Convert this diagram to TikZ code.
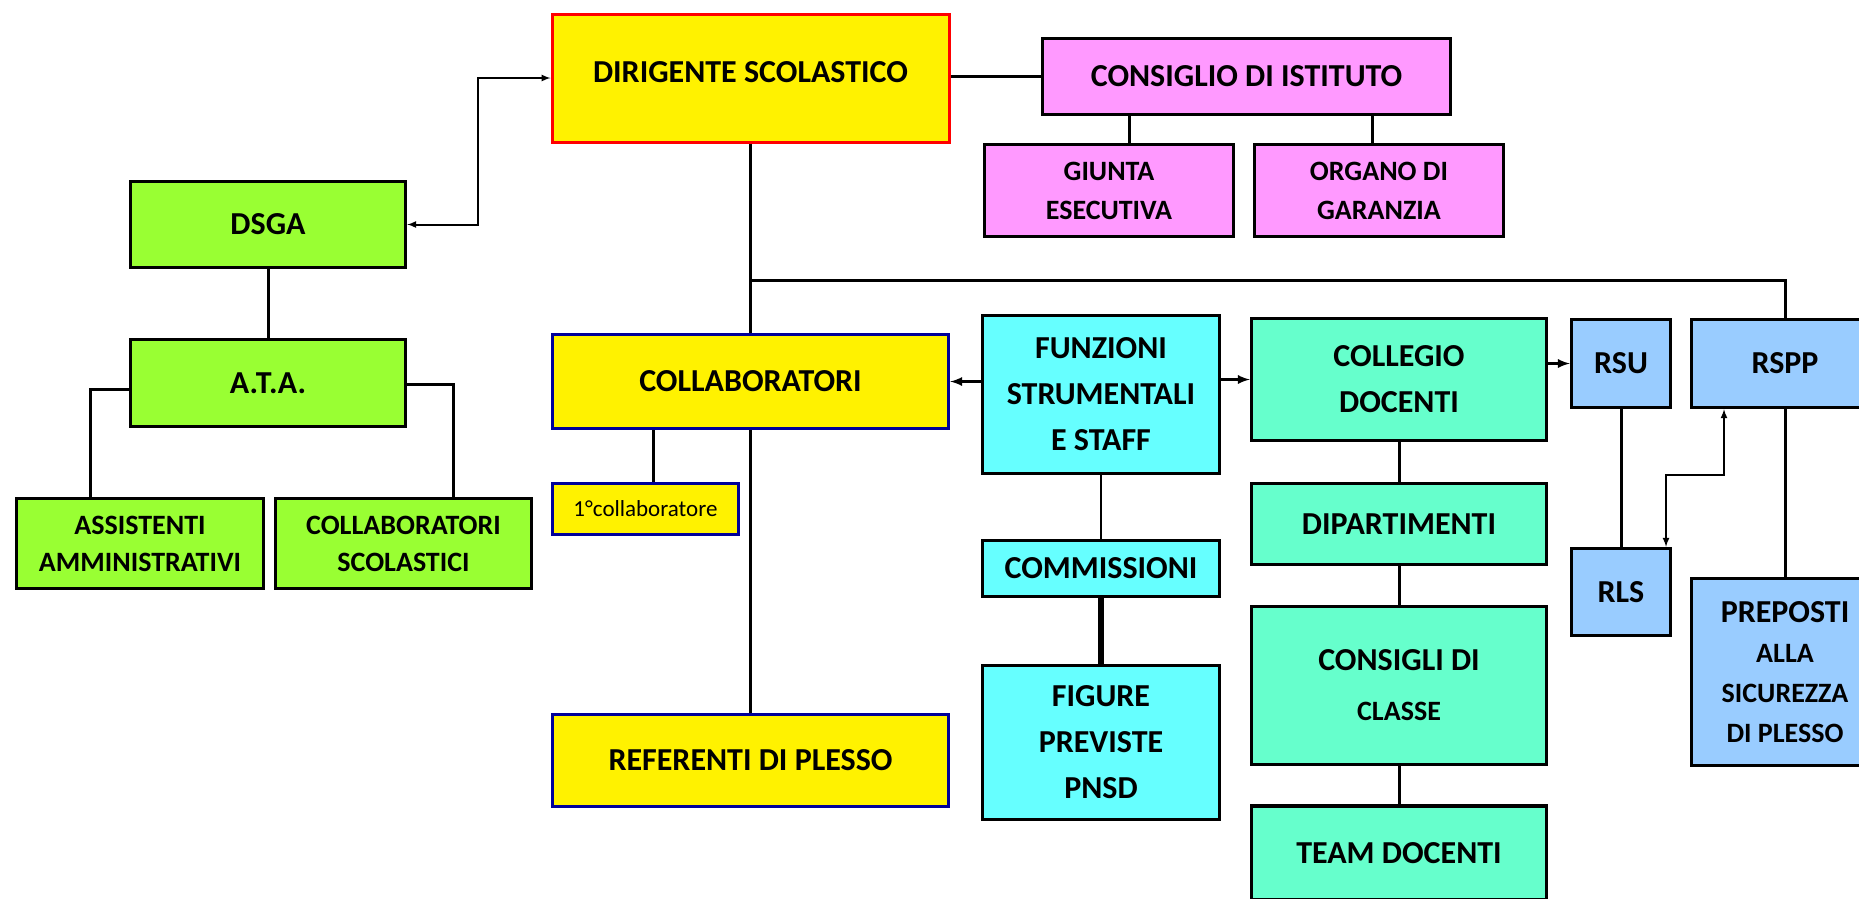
\documentclass[tikz,border=0pt]{standalone}
\usepackage{fontspec}
\setmainfont{Carlito}
\definecolor{atagreen}{HTML}{99FF33}
\definecolor{cipink}{HTML}{FF99FF}
\definecolor{funcyan}{HTML}{66FFFF}
\definecolor{docmint}{HTML}{66FFCC}
\definecolor{safeblue}{HTML}{99CCFF}
\definecolor{collnavy}{HTML}{000099}
\newcommand{\smallline}{\fontsize{28}{40}\selectfont}
\begin{document}
\begin{tikzpicture}[x=1pt,y=-1pt]
        \tikzset{box/.style = {draw,line width=3.5pt,align=center,inner sep=0pt,
                 font=\bfseries\fontsize{32}{46}\selectfont}}
        \tikzset{small/.style = {font=\bfseries\fontsize{28}{39}\selectfont}}
        \tikzset{greenbox/.style = {box,fill=atagreen}}
        \tikzset{pinkbox/.style = {box,fill=cipink}}
        \tikzset{cyanbox/.style = {box,fill=funcyan,line width=3pt}}
        \tikzset{mintbox/.style = {box,fill=docmint}}
        \tikzset{bluebox/.style = {box,fill=safeblue}}
        \tikzset{yellowbox/.style = {box,fill=yellow,draw=collnavy}}
        \tikzset{edge/.style = {line width=3pt}}
        \tikzset{arrowedge/.style = {line width=3pt,->,> = latex}}
        \tikzset{twoway/.style = {line width=2pt,<->,> = latex}}
        \useasboundingbox (0,0) rectangle (1859,898);

        \node[box,fill=yellow,draw=red,line width=3pt,text depth=12pt,minimum width=397pt,minimum height=128pt] (dir) at (750.5,78) {DIRIGENTE SCOLASTICO};
        \node[pinkbox,minimum width=408pt,minimum height=76pt] (ci) at (1246.5,76.5) {CONSIGLIO DI ISTITUTO};
        \node[pinkbox,small,minimum width=249pt,minimum height=92pt] (giunta) at (1109,190.5) {GIUNTA\\ESECUTIVA};
        \node[pinkbox,small,minimum width=249pt,minimum height=92pt] (organo) at (1379,190.5) {ORGANO DI\\GARANZIA};

        \node[greenbox,minimum width=275pt,minimum height=86pt] (dsga) at (268,224.5) {DSGA};
        \node[greenbox,minimum width=275pt,minimum height=87pt] (ata) at (268,383) {A.T.A.};
        \node[greenbox,font=\bfseries\fontsize{28}{37}\selectfont,minimum width=247pt,minimum height=90pt] (assist) at (140,543.5) {ASSISTENTI\\AMMINISTRATIVI};
        \node[greenbox,font=\bfseries\fontsize{28}{37}\selectfont,minimum width=256pt,minimum height=90pt] (colsc) at (403.5,543.5) {COLLABORATORI\\SCOLASTICI};

        \node[yellowbox,minimum width=396pt,minimum height=94pt] (coll) at (750.5,381.5) {COLLABORATORI};
        \node[yellowbox,font=\fontsize{23}{28}\selectfont,minimum width=186pt,minimum height=51pt] (primo) at (645.5,509) {1°collaboratore};
        \node[yellowbox,minimum width=396pt,minimum height=92pt] (ref) at (750.5,760.5) {REFERENTI DI PLESSO};

        \node[cyanbox,minimum width=237pt,minimum height=158pt] (fun) at (1101,394.5) {FUNZIONI\\STRUMENTALI\\E STAFF};
        \node[cyanbox,minimum width=237pt,minimum height=56pt] (comm) at (1101,568.5) {COMMISSIONI};
        \node[cyanbox,minimum width=237pt,minimum height=154pt] (fig) at (1101,742.5) {FIGURE\\PREVISTE\\PNSD};

        \node[mintbox,minimum width=295pt,minimum height=122pt] (colleg) at (1399,379.5) {COLLEGIO\\DOCENTI};
        \node[mintbox,minimum width=295pt,minimum height=81pt] (dip) at (1399,524) {DIPARTIMENTI};
        \node[mintbox,font=\bfseries\fontsize{32}{50}\selectfont,minimum width=295pt,minimum height=158pt] (cdc) at (1399,685.5) {CONSIGLI DI\\\fontsize{28}{50}\selectfont CLASSE};
        \node[mintbox,minimum width=295pt,minimum height=94pt] (team) at (1399,853) {TEAM DOCENTI};

        \node[bluebox,minimum width=99pt,minimum height=88pt] (rsu) at (1621,363.5) {RSU};
        \node[bluebox,minimum width=187pt,minimum height=88pt] (rspp) at (1785,363.5) {RSPP};
        \node[bluebox,minimum width=99pt,minimum height=87pt] (rls) at (1621,592) {RLS};
        \node[bluebox,font=\bfseries\fontsize{32}{40}\selectfont,minimum width=187pt,minimum height=187pt] (prep) at (1785,672) {PREPOSTI\\\smallline ALLA\\\smallline SICUREZZA\\\smallline DI PLESSO};

        \coordinate (branch) at (750.5,280);

        \draw[twoway] (dsga.east) -- ++(71,0) |- (dir.west);
        \draw[edge] (ci.west) -- (ci.west -| dir.east);
        \draw[edge] ([xshift=20pt]giunta.north) -- ([xshift=20pt]giunta.north |- ci.south);
        \draw[edge] ([xshift=-7pt]organo.north) -- ([xshift=-7pt]organo.north |- ci.south);

        \draw[edge] (dir.south) -- (coll.north);
        \draw[edge] (branch) -| (rspp.north);

        \draw[edge] (dsga.south) -- (ata.north);
        \draw[edge] ([yshift=-6pt]ata.west) -| ([xshift=-50pt]assist.north);
        \draw[edge] ([yshift=-1pt]ata.east) -| ([xshift=49.5pt]colsc.north);

        \draw[edge] ([xshift=7.5pt]primo.north) -- ([xshift=7.5pt]primo.north |- coll.south);
        \draw[edge] (coll.south) -- (ref.north);

        \draw[arrowedge] (fun.west |- coll.east) -- (coll.east);
        \draw[arrowedge] (fun.east |- colleg.west) -- (colleg.west);
        \draw[line width=2pt] (fun.south) -- (comm.north);
        \draw[line width=6pt] (comm.south) -- (fig.north);

        \draw[edge] (colleg.south) -- (dip.north);
        \draw[edge] (dip.south) -- (cdc.north);
        \draw[edge] (cdc.south) -- (team.north);

        \draw[arrowedge] (colleg.east |- rsu.west) -- (rsu.west);
        \draw[edge] (rsu.south) -- (rls.north);
        \draw[edge] (rspp.south) -- (prep.north);
        \draw[twoway] ([xshift=-61pt]rspp.south) -- ++(0,66) -| ([xshift=45pt]rls.north);
\end{tikzpicture}
\end{document}
